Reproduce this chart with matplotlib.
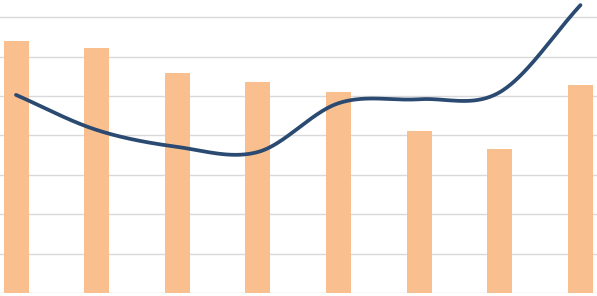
import numpy as np
import matplotlib
matplotlib.use("Agg")
import matplotlib.pyplot as plt

categories = list(range(8))
bar_values = [64.0, 62.2, 55.8, 53.5, 51.0, 41.2, 36.5, 52.7]
line_values = [50.3, 41.4, 37.1, 35.8, 48.2, 49.2, 51.0, 73.1]
gridlines = [0, 10, 20, 30, 40, 50, 60, 70]


def catmull_rom(xs, ys, n=60):
    xs = np.asarray(xs, float)
    ys = np.asarray(ys, float)
    px = np.concatenate([[2 * xs[0] - xs[1]], xs, [2 * xs[-1] - xs[-2]]])
    py = np.concatenate([[ys[0]], ys, [ys[-1]]])
    outx, outy = [], []
    for i in range(1, len(px) - 2):
        t = np.linspace(0, 1, n)
        h00 = 2 * t**3 - 3 * t**2 + 1
        h10 = t**3 - 2 * t**2 + t
        h01 = -2 * t**3 + 3 * t**2
        h11 = t**3 - t**2
        mx0 = (px[i + 1] - px[i - 1]) / 2
        mx1 = (px[i + 2] - px[i]) / 2
        my0 = (py[i + 1] - py[i - 1]) / 2
        my1 = (py[i + 2] - py[i]) / 2
        if i == 1:
            my0 = (py[i + 1] - py[i])
            mx0 = px[i + 1] - px[i]
        if i == len(px) - 3:
            my1 = (py[i + 1] - py[i])
            mx1 = px[i + 1] - px[i]
        outx.append(h00 * px[i] + h10 * mx0 + h01 * px[i + 1] + h11 * mx1)
        outy.append(h00 * py[i] + h10 * my0 + h01 * py[i + 1] + h11 * my1)
    return np.concatenate(outx), np.concatenate(outy)


fig = plt.figure(figsize=(5.97, 2.96), dpi=100)
ax = fig.add_axes([0, 3 / 296, 1, 293 / 296])
ax.set_xlim(-0.1985, 7.205)
ax.set_ylim(0, 74.4)

for g in gridlines:
    ax.axhline(g, color="#d9d9d9", linewidth=1.0, zorder=0)

ax.bar(categories, bar_values, width=0.31, color="#fabf8f", zorder=2)

sx, sy = catmull_rom(categories, line_values)
ax.plot(sx, sy, color="#2b4a71", linewidth=2.7, solid_capstyle="round", zorder=3)

for s in ax.spines.values():
    s.set_visible(False)
ax.set_xticks([])
ax.set_yticks([])
ax.patch.set_alpha(0)

fig.savefig("out.png", dpi=100, facecolor="white")
